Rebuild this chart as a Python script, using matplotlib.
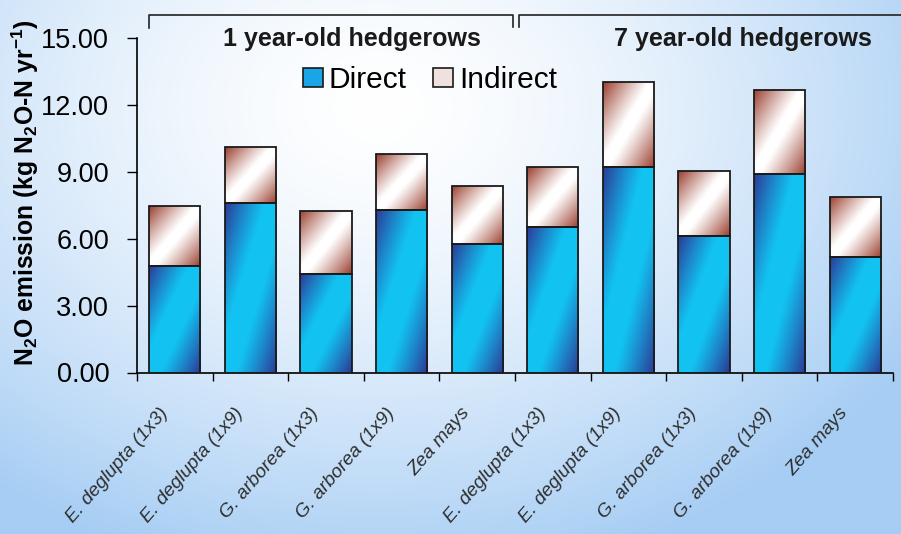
import numpy as np
import matplotlib
matplotlib.use("Agg")
import matplotlib.pyplot as plt
from matplotlib.patches import Patch
from matplotlib.colors import to_rgb
from matplotlib.transforms import ScaledTranslation

# N2O emission per hedgerow treatment (kg N2O-N / yr)
species = ["E. deglupta (1x3)", "E. deglupta (1x9)", "G. arborea (1x3)",
           "G. arborea (1x9)", "Zea mays",
           "E. deglupta (1x3)", "E. deglupta (1x9)", "G. arborea (1x3)",
           "G. arborea (1x9)", "Zea mays"]
direct = [4.76, 7.62, 4.40, 7.30, 5.76, 6.53, 9.23, 6.12, 8.92, 5.18]
indirect = [2.69, 2.47, 2.84, 2.49, 2.61, 2.69, 3.81, 2.91, 3.77, 2.71]
yticks = [0, 3, 6, 9, 12, 15]
groups = ["1 year-old hedgerows", "7 year-old hedgerows"]

plt.rcParams["mathtext.fontset"] = "custom"
plt.rcParams["mathtext.rm"] = "Liberation Sans:bold"
plt.rcParams["mathtext.default"] = "rm"

sans = ["Liberation Sans", "DejaVu Sans"]

W, H = 901, 534
fig = plt.figure(figsize=(W / 100, H / 100), dpi=100)

# background gradient, white near top-centre, light blue at the edges
bg = fig.add_axes([0, 0, 1, 1], zorder=-10)
gx, gy = np.meshgrid(np.linspace(0, 1, 300), np.linspace(0, 1, 200))
d = np.sqrt(((gx - 0.42) / 0.7) ** 2 + ((gy - 0.2) / 0.9) ** 2)
t = np.clip(d, 0, 1) ** 1.5
white = np.array([1.0, 1.0, 1.0])
blue = np.array(to_rgb("#a6cdf4"))
bg.imshow(white * (1 - t[..., None]) + blue * t[..., None], aspect="auto",
          extent=[0, 1, 0, 1], origin="upper", interpolation="bilinear")
bg.axis("off")

ax = fig.add_axes([137 / W, 1 - 372.5 / H, 756 / W, 334.5 / H])
ax.patch.set_alpha(0)

x = np.arange(len(species))
width = 0.675
b1 = ax.bar(x, direct, width, facecolor="none", edgecolor="#1a1a1a", lw=1.3, zorder=3)
b2 = ax.bar(x, indirect, width, bottom=direct, facecolor="none",
            edgecolor="#1a1a1a", lw=1.3, zorder=3)


def grad_fill(bars, c_mid, c_edge, soft):
    # diagonal sheen: dark top-left corner and bottom-right, light band between
    u, v = np.meshgrid(np.linspace(0, 1, 60), np.linspace(0, 1, 120))
    dd = np.abs(u + v - 1)
    tt = np.clip((dd - soft) / (1 - soft), 0, 1) ** 1.1
    mid = np.array(to_rgb(c_mid))
    edge = np.array(to_rgb(c_edge))
    img = mid * (1 - tt[..., None]) + edge * tt[..., None]
    for p in bars:
        x0, y0 = p.get_x(), p.get_y()
        im = ax.imshow(img, extent=[x0, x0 + p.get_width(), y0, y0 + p.get_height()],
                       origin="upper", aspect="auto", interpolation="bilinear", zorder=2)
        im.set_clip_path(p)


grad_fill(b1, "#12c3f2", "#2b3a96", 0.22)
grad_fill(b2, "#ffffff", "#9a3e2e", 0.1)

ax.set_xlim(-0.5, len(species) - 0.5)
ax.set_ylim(0, 15)
ax.set_yticks(yticks)
ax.set_yticklabels(["%.2f" % v for v in yticks], family=sans, fontsize=19.5)
ax.tick_params(axis="y", length=7, width=1, pad=13, direction="out")

ax.set_xticks(x)
ax.set_xticklabels(species, rotation=49, ha="right", va="center",
                   rotation_mode="anchor", family=sans, style="italic",
                   fontsize=13.8, color="#2e2e2e")
ax.tick_params(axis="x", which="major", length=0, pad=27)
shift = ScaledTranslation(-10 / 100, 0, fig.dpi_scale_trans)
for lab in ax.get_xticklabels():
    lab.set_transform(lab.get_transform() + shift)
ax.set_xticks(np.arange(-0.5, len(species)), minor=True)
ax.tick_params(axis="x", which="minor", length=6, width=1, direction="out")

for s in ["top", "right"]:
    ax.spines[s].set_visible(False)
for s in ["left", "bottom"]:
    ax.spines[s].set_linewidth(1.2)

# group brackets and titles above the plot
tr = ax.get_xaxis_transform()
ax.plot([-0.34, -0.34, 4.48, 4.48], [1.03, 1.069, 1.069, 1.032], color="#222",
        lw=1.2, transform=tr, clip_on=False)
ax.plot([4.55, 4.55, 10.2], [1.032, 1.069, 1.069], color="#222",
        lw=1.2, transform=tr, clip_on=False)
ax.text(2.34, 0.998, groups[0], transform=tr, ha="center", va="center",
        family=sans, fontweight="bold", fontsize=18, color="#1a1a1a")
ax.text(7.51, 0.998, groups[1], transform=tr, ha="center", va="center",
        family=sans, fontweight="bold", fontsize=18, color="#1a1a1a")

fig.text(25 / W, 1 - 193 / H, r"N$_2$O emission (kg N$_2$O-N yr$^{-1}$)",
         rotation=90, ha="center", va="center", family=sans,
         fontweight="bold", fontsize=17.8)

handles = [Patch(facecolor="#1aa6e6", edgecolor="#1a1a1a", lw=1.2),
           Patch(facecolor="#efe2de", edgecolor="#1a1a1a", lw=1.2)]
fig.legend(handles, ["Direct", "Indirect"], loc="center", ncol=2,
           bbox_to_anchor=(430 / W, 1 - 80 / H), frameon=False,
           prop={"family": sans, "size": 21.5}, handlelength=0.65,
           handleheight=0.65, handletextpad=0.2, columnspacing=0.9,
           borderpad=0)

fig.savefig("out.png", dpi=100)
